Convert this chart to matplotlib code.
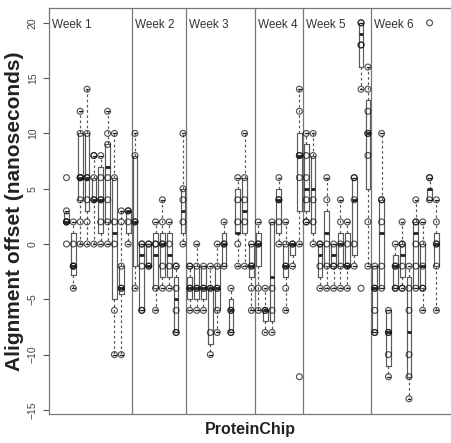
import matplotlib
matplotlib.use("Agg")
import matplotlib.pyplot as plt
import numpy as np

plt.rcParams['font.family'] = ['Liberation Sans', 'DejaVu Sans']

# box statistics per chip (ns): lower whisker, Q1, median, Q3, upper whisker
whis_lo = [2, -4, 0, 0, 0, 0, 0, -10, -10, 0,
           -4, -6, -2, -6, -4, -4, -8, 0,
           -6, -6, -6, -10, -8, -2, -8, -2, -2, -6,
           -6, -8, -8, 0, -6, -2, 0,
           2, 0, -4, -4, -4, -4, -4, -2, 14, -2,
           -8, -4, -12, -4, -4, -14, -4, -6, 4, -6]
q1 = [2, -2.8, 4, 3, 4, 1, 2, -5, -4.5, 1,
      -2, -6, -2, -4, -3, -3, -8, 1,
      -5, -5, -5, -9, -6, -2, -8, 1, 1, -3,
      -2, -7, -7, 1, -3, -1, 3,
      3, 1, -3, -2, -2, -2, -2, -1, 16, 5,
      -8, -4, -11, -4, -3, -12, -4, -4, 4, -2]
med = [2, -2, 6, 6, 4, 4, 7, 1, -4, 3,
       2, -1, -2, -1, 0, -1, -5, 3,
       -4, -4, -4, -4, -4, 0, -6, 1, 3, -2,
       0, -6, -3, 4, -2, 0, 8,
       5, 5, -1, 1, -1, 0, -2, 4, 19, 10,
       -4, 1, -8, -2, -1, -8, 1, -2, 5, 0]
q3 = [2.8, 1, 10, 10, 6, 7, 9, 6, -2, 3,
      8, 0, 0, 1, 1, 1, -3, 5,
      -3, -2, -2, -4, -2, 1, -5, 5, 6, 0,
      1, -6, 2, 5, 0, 0, 10,
      9, 8, 0, 3, 0, 1, 1, 6, 20, 13,
      -2, 4, -6, -1, 0, -3, 2, 0, 5, 1]
whis_hi = [3, 2, 12, 14, 8, 8, 12, 10, 3, 3,
           10, 0, 0, 2, 4, 2, -2, 10,
           -2, 0, -2, -2, 0, 2, -4, 6, 10, 0,
           2, -4, 2, 6, 2, 0, 14,
           10, 10, 0, 6, 0, 4, 2, 6, 20, 16,
           -2, 10, -6, 0, 2, -2, 4, 2, 6, 4]

# individual observations per chip (ns)
obs = [
    [0, 2, 2, 2, 3, 6],
    [2, 0, -2, -2, -2, -4],
    [12, 10, 6, 6, 6, 4, 2, 0],
    [14, 10, 6, 6, 4, 2, 0],
    [8, 8, 6, 4, 4, 0],
    [8, 6, 4, 4, 2, 0],
    [12, 10, 9, 6, 4, 2, 0],
    [10, 6, 2, 0, -6, -10],
    [3, 2, -2, -4, -4, -10],
    [3, 3, 2, 0],
    [10, 8, 2, 2, -4],
    [0, 0, -2, -6, -6],
    [0, 0, -2, -2],
    [2, 0, 0, -4, -6],
    [4, 2, 0, 0, -2, -4],
    [2, 0, -2, -4],
    [-2, -2, -4, -6, -8, -8],
    [10, 5, 4, 2, 0],
    [-2, -2, -4, -4, -6],
    [0, -2, -4, -4, -6],
    [-2, -4, -4, -6],
    [-2, -4, -4, -8, -10],
    [0, -2, -4, -4, -6, -8],
    [2, 0, 0, -2],
    [-4, -6, -6, -8, -8],
    [6, 4, 2, 0, -2],
    [10, 6, 4, 2, -2],
    [0, -2, -2, -4, -6],
    [2, 0, 0, -4, -6],
    [-4, -6, -6, -8],
    [2, -4, -6, -8],
    [6, 4, 4, 2, 0],
    [2, 0, -2, -2, -4, -6],
    [0, 0, -2],
    [14, 12, 8, 8, 6, 0, -12],
    [10, 8, 6, 4, 2, 2],
    [10, 8, 4, 2, 0],
    [0, 0, -2, -4],
    [6, 4, 0, -2, -4],
    [0, -2, -2, -4],
    [4, 2, 0, -2, -4],
    [2, 0, -2, -2, -4],
    [6, 6, 4, 0, -2],
    [20, 20, 18, 18, 14, -4],
    [16, 14, 12, 10, 10, 8, 2, -2],
    [-2, -4, -4, -6, -8, -8],
    [10, 4, 4, 2, -2, -4],
    [-6, -8, -8, -10, -12],
    [0, -2, -2, -4, -4],
    [2, 0, 0, -2, -4, -4],
    [-2, -4, -6, -10, -12, -14],
    [4, 2, 2, 0, -2, -4],
    [2, 0, -2, -4, -4, -6],
    [20, 6, 6, 4],
    [4, 2, 0, 0, -2, -6],
]

week_labels = ["Week 1", "Week 2", "Week 3", "Week 4", "Week 5", "Week 6"]
chips_per_week = [10, 8, 10, 7, 10, 10]

positions = np.arange(1, len(med) + 1)

fig = plt.figure(figsize=(4.52, 4.43), dpi=100)
ax = fig.add_axes([49 / 452, 29 / 443, 403 / 452, 406 / 443])

stats = []
for i in range(len(med)):
    stats.append(dict(whislo=whis_lo[i], q1=q1[i], med=med[i], q3=q3[i],
                      whishi=whis_hi[i], fliers=[]))

ax.bxp(stats, positions=positions, widths=0.7, showfliers=False,
       capwidths=0.38,
       boxprops=dict(color='#5a5a5a', linewidth=0.85),
       medianprops=dict(color='#222222', linewidth=2.0, solid_capstyle='butt'),
       whiskerprops=dict(color='#555555', linewidth=0.85, linestyle=(0, (2.2, 2.2))),
       capprops=dict(color='#222222', linewidth=0.9))

# overlay the raw observations as open circles
xs = np.concatenate([[p] * len(o) for p, o in zip(positions, obs)])
ys = np.concatenate(obs)
ax.scatter(xs, ys, s=18, facecolors='none', edgecolors=(0.08, 0.08, 0.08, 0.72),
           linewidths=0.85, zorder=3)

# week separators and labels
bounds = np.cumsum(chips_per_week)[:-1] + 0.5
x_left = 1 - 17.5 / 6.85
for b in bounds:
    ax.axvline(b, color='#777777', linewidth=0.9)
starts = [x_left] + list(bounds)
for s, lab in zip(starts, week_labels):
    ax.text(s + 0.45, 19.8, lab, ha='left', va='center', fontsize=8.5,
            color='#333333')

ax.set_xlim(x_left, 1 + 385.5 / 6.85)
ax.set_ylim(-15.37, 21.34)
ax.set_xticks([])
ax.set_yticks([-15, -10, -5, 0, 5, 10, 15, 20])
ax.set_yticklabels(['\u221215', '\u221210', '\u22125', '0', '5', '10', '15', '20'],
                   rotation=90, va='center')
ax.tick_params(axis='y', length=4, width=0.8, color='#555555',
               labelcolor='#444444', labelsize=7.5, pad=4)
for side in ['left', 'top', 'bottom']:
    ax.spines[side].set_color('#777777')
    ax.spines[side].set_linewidth(0.9)
ax.spines['right'].set_visible(False)

ax.set_ylabel("Alignment offset (nanoseconds)", fontsize=15, fontweight='bold',
              color='#222222', labelpad=3)
ax.set_xlabel("ProteinChip", fontsize=11.5, fontweight='bold', color='#222222',
              labelpad=6)

fig.savefig("out.png", dpi=100, facecolor='white')
